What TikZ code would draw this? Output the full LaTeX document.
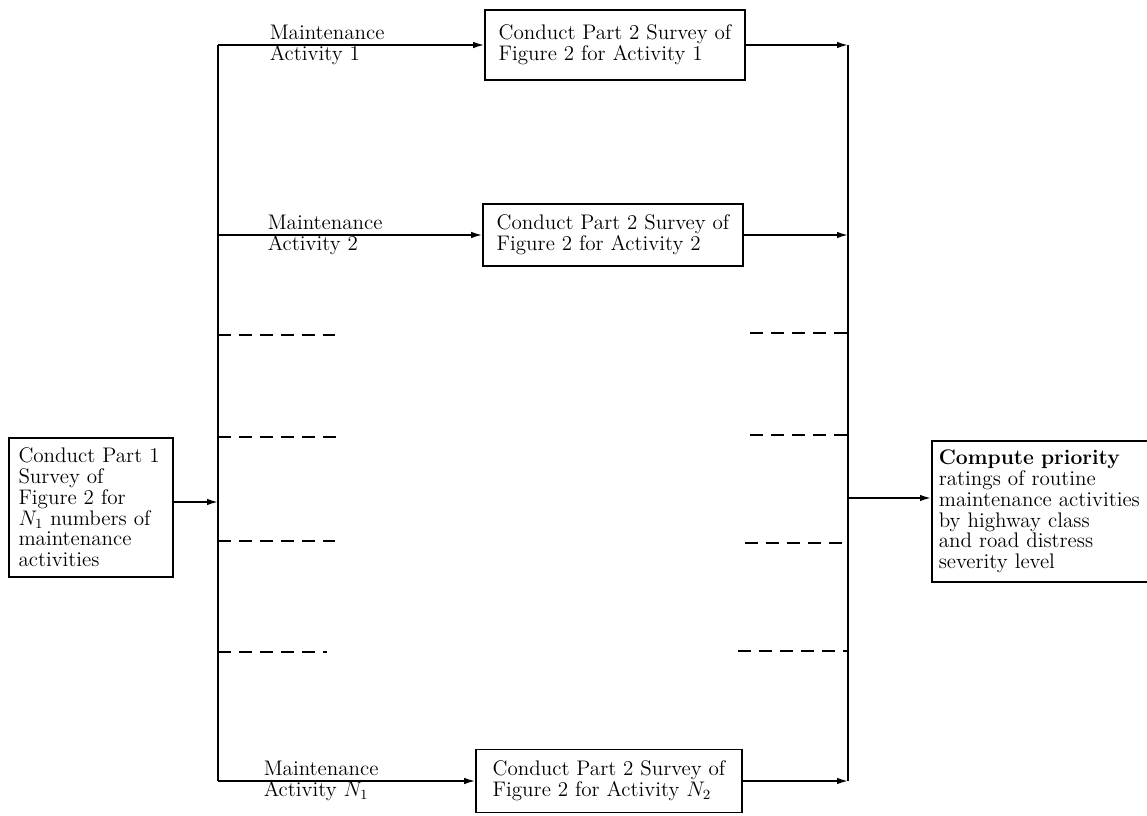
\documentclass[tikz,border=0pt]{standalone}
\usepackage{amsmath}
\usetikzlibrary{arrows.meta,calc,positioning}
\tikzset{
  >=Latex,
  every picture/.style={line width=0.9pt},
  txt/.style={font=\fontsize{12}{11.8}\selectfont},
  box/.style={draw, txt, align=left, inner xsep=5.4pt, inner ysep=3pt},
  actlabel/.style={txt, align=left, anchor=west, inner sep=0pt},
  arrow/.style={-{Latex[length=2.2mm,width=1.3mm]}},
  dashline/.style={dash pattern=on 2.6mm off 1.6mm}
}
\begin{document}
\begin{tikzpicture}
  \useasboundingbox (0,0) rectangle (22.94,16.3);

  \node[box, text width=2.9cm, minimum height=2.78cm] (part1) at (1.82,6.15)
    {Conduct Part 1\\Survey of\\Figure 2 for\\$N_1$ numbers of\\maintenance\\activities};
  \node[box, minimum width=5.2cm, minimum height=1.4cm] (survey1) at (12.3,15.4)
    {Conduct Part 2 Survey of\\Figure 2 for Activity 1};
  \node[box, minimum width=5.2cm, minimum height=1.24cm] (survey2) at (12.26,11.6)
    {Conduct Part 2 Survey of\\Figure 2 for Activity 2};
  \node[box, minimum width=5.32cm, minimum height=1.26cm] (surveyN) at (12.18,0.68)
    {Conduct Part 2 Survey of\\Figure 2 for Activity $N_2$};
  \node[box, anchor=west, text width=4.3cm, minimum height=2.82cm, inner xsep=4pt] (priority) at (18.62,6.07)
    {\textbf{Compute priority}\\ratings of routine\\maintenance activities\\by highway class\\and road distress\\severity level};

  \coordinate (split) at (4.36,6.26);
  \coordinate (merge) at (16.96,6.34);

  \draw[arrow] (part1.east |- split) -- (split);
  \draw (split |- survey1) -- (split |- surveyN);
  \draw[arrow] (split |- survey1) -- (survey1.west);
  \draw[arrow] (split |- survey2) -- (survey2.west);
  \draw[arrow] (split |- surveyN) -- (surveyN.west);

  \node[actlabel, xshift=1.02cm] (act1) at (split |- survey1) {Maintenance\\Activity 1};
  \node[actlabel, xshift=0.98cm] (act2) at (split |- survey2) {Maintenance\\Activity 2};
  \node[actlabel, xshift=0.90cm] (actN) at (split |- surveyN) {Maintenance\\Activity $N_1$};

  \draw (merge |- survey1) -- (merge |- surveyN);
  \draw[arrow] (survey1.east) -- (merge |- survey1);
  \draw[arrow] (survey2.east) -- (merge |- survey2);
  \draw[arrow] (surveyN.east) -- (merge |- surveyN);
  \draw[arrow] (merge) -- (merge -| priority.west);

  \foreach \y/\x in {9.6/6.7, 7.56/6.76, 5.48/6.7, 3.26/6.54}
    \draw[dashline] (split |- 0,\y) -- (\x,\y);
  \foreach \y/\x in {9.64/15.0, 7.6/15.0, 5.44/14.9, 3.28/14.76}
    \draw[dashline] (\x,\y) -- (merge |- 0,\y);
\end{tikzpicture}
\end{document}
